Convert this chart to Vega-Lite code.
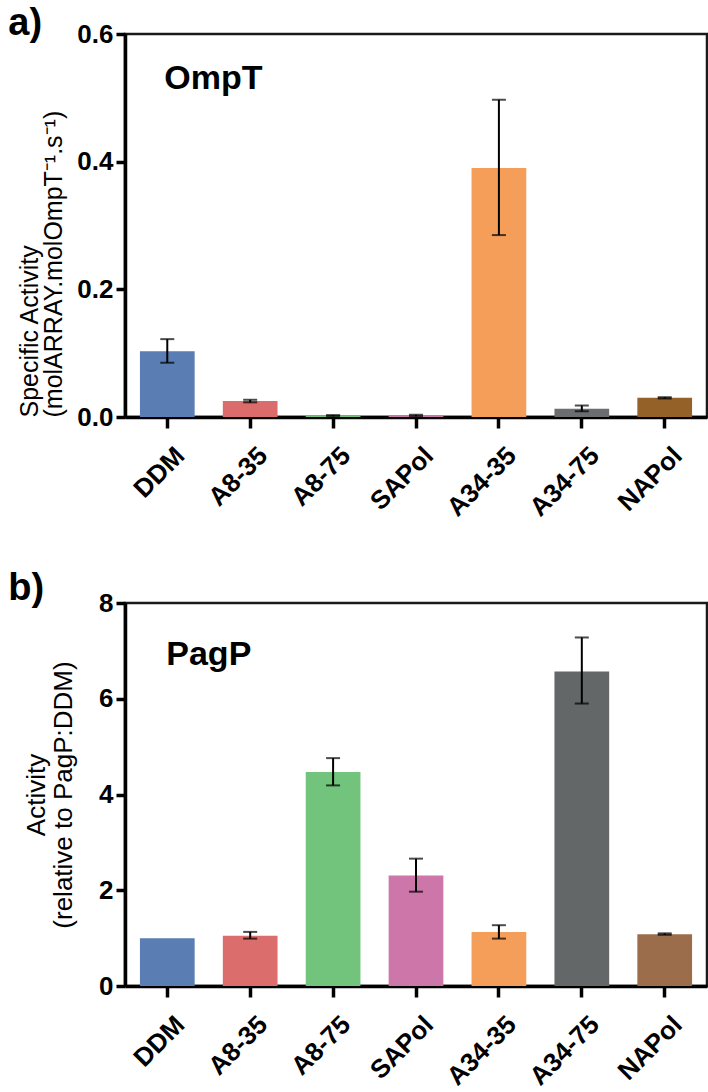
{
  "$schema": "https://vega.github.io/schema/vega-lite/v6.json",
  "background": "white",
  "padding": {"left": 7, "top": 3, "right": 0, "bottom": 3},
  "config": {
    "view": {"stroke": "#1a1a1a", "strokeWidth": 2.5},
    "font": "Liberation Sans",
    "axis": {
      "domainColor": "black", "domainWidth": 3.5, "tickColor": "black", "tickWidth": 3.5,
      "labelColor": "black", "labelFont": "Liberation Sans", "labelFontWeight": "bold", "labelFontSize": 26,
      "titleFont": "Liberation Sans", "titleFontWeight": "normal", "titleFontSize": 25, "titleColor": "black", "titleLineHeight": 24,
      "grid": false
    }
  },
  "datasets": {
    "ompt": [
      {"cat": "DDM", "value": 0.103, "lo": 0.085, "hi": 0.122},
      {"cat": "A8-35", "value": 0.025, "lo": 0.023, "hi": 0.027},
      {"cat": "A8-75", "value": 0.002, "lo": 0.001, "hi": 0.003},
      {"cat": "SAPol", "value": 0.002, "lo": 0.001, "hi": 0.0035},
      {"cat": "A34-35", "value": 0.390, "lo": 0.285, "hi": 0.497},
      {"cat": "A34-75", "value": 0.013, "lo": 0.009, "hi": 0.018},
      {"cat": "NAPol", "value": 0.030, "lo": 0.029, "hi": 0.031}
    ],
    "pagp": [
      {"cat": "DDM", "value": 1.0, "lo": null, "hi": null},
      {"cat": "A8-35", "value": 1.05, "lo": 0.99, "hi": 1.13},
      {"cat": "A8-75", "value": 4.47, "lo": 4.19, "hi": 4.76},
      {"cat": "SAPol", "value": 2.31, "lo": 1.97, "hi": 2.66},
      {"cat": "A34-35", "value": 1.13, "lo": 0.99, "hi": 1.27},
      {"cat": "A34-75", "value": 6.57, "lo": 5.90, "hi": 7.28},
      {"cat": "NAPol", "value": 1.08, "lo": 1.07, "hi": 1.10}
    ]
  },
  "spacing": 46,
  "resolve": {"scale": {"color": "independent"}},
  "vconcat": [
    {
      "width": 582, "height": 383,
      "data": {"name": "ompt"},
      "encoding": {
        "x": {"field": "cat", "type": "nominal", "sort": null, "scale": {"paddingInner": 0.34, "paddingOuter": 0.18}, "axis": {"title": null, "labelAngle": -45, "labelPadding": 14, "labelOffset": 4, "tickSize": 11}}
      },
      "layer": [
        {
          "mark": {"type": "bar"},
          "encoding": {
            "y": {"field": "value", "type": "quantitative", "scale": {"domain": [0, 0.6]}, "axis": {"values": [0, 0.2, 0.4, 0.6], "format": ".1f", "tickSize": 9, "labelPadding": 3, "title": ["Specific Activity", "(molARRAY.molOmpT⁻¹.s⁻¹)"], "titlePadding": 10, "titleAnchor": "start"}},
            "color": {"field": "cat", "type": "nominal", "sort": null, "legend": null, "scale": {"domain": ["DDM", "A8-35", "A8-75", "SAPol", "A34-35", "A34-75", "NAPol"], "range": ["#5a7db4", "#dc6b6b", "#72c47a", "#cd76aa", "#f59e5a", "#6b6e70", "#946128"]}}
          }
        },
        {"mark": {"type": "rule", "color": "black", "strokeWidth": 2}, "encoding": {"y": {"field": "lo", "type": "quantitative"}, "y2": {"field": "hi"}}},
        {"mark": {"type": "tick", "color": "black", "thickness": 2, "size": 14}, "encoding": {"y": {"field": "lo", "type": "quantitative"}}},
        {"mark": {"type": "tick", "color": "black", "thickness": 2, "size": 14}, "encoding": {"y": {"field": "hi", "type": "quantitative"}}},
        {
          "data": {"values": [{"cat": "DDM", "y": 0.514, "label": "OmpT"}]},
          "mark": {"type": "text", "align": "left", "baseline": "alphabetic", "dx": -3, "fontSize": 34, "fontWeight": "bold", "color": "black", "font": "Liberation Sans"},
          "encoding": {"y": {"field": "y", "type": "quantitative"}, "text": {"field": "label"}}
        },
        {
          "data": {"values": [{"cat": "DDM", "y": 0.6, "label": "a)"}]},
          "mark": {"type": "text", "align": "left", "baseline": "alphabetic", "dx": -159, "dy": 1, "fontSize": 38, "fontWeight": "bold", "color": "black", "font": "Liberation Sans"},
          "encoding": {"y": {"field": "y", "type": "quantitative"}, "text": {"field": "label"}}
        }
      ]
    },
    {
      "width": 582, "height": 383,
      "data": {"name": "pagp"},
      "encoding": {
        "x": {"field": "cat", "type": "nominal", "sort": null, "scale": {"paddingInner": 0.34, "paddingOuter": 0.18}, "axis": {"title": null, "labelAngle": -45, "labelPadding": 14, "labelOffset": 4, "tickSize": 11}}
      },
      "layer": [
        {
          "mark": {"type": "bar"},
          "encoding": {
            "y": {"field": "value", "type": "quantitative", "scale": {"domain": [0, 8]}, "axis": {"values": [0, 2, 4, 6, 8], "format": "d", "tickSize": 9, "labelPadding": 3, "title": ["Activity", "(relative to PagP:DDM)"], "titlePadding": 22, "titleFontSize": 26, "titleLineHeight": 27}},
            "color": {"field": "cat", "type": "nominal", "sort": null, "legend": null, "scale": {"domain": ["DDM", "A8-35", "A8-75", "SAPol", "A34-35", "A34-75", "NAPol"], "range": ["#5a7db4", "#dc6d6d", "#72c47c", "#cd76aa", "#f59e5a", "#636768", "#9b6d4a"]}}
          }
        },
        {"mark": {"type": "rule", "color": "black", "strokeWidth": 2}, "encoding": {"y": {"field": "lo", "type": "quantitative"}, "y2": {"field": "hi"}}},
        {"mark": {"type": "tick", "color": "black", "thickness": 2, "size": 14}, "encoding": {"y": {"field": "lo", "type": "quantitative"}}},
        {"mark": {"type": "tick", "color": "black", "thickness": 2, "size": 14}, "encoding": {"y": {"field": "hi", "type": "quantitative"}}},
        {
          "data": {"values": [{"cat": "DDM", "y": 6.7, "label": "PagP"}]},
          "mark": {"type": "text", "align": "left", "baseline": "alphabetic", "dx": -1, "fontSize": 34, "fontWeight": "bold", "color": "black", "font": "Liberation Sans"},
          "encoding": {"y": {"field": "y", "type": "quantitative"}, "text": {"field": "label"}}
        },
        {
          "data": {"values": [{"cat": "DDM", "y": 8, "label": "b)"}]},
          "mark": {"type": "text", "align": "left", "baseline": "alphabetic", "dx": -159, "dy": -3, "fontSize": 38, "fontWeight": "bold", "color": "black", "font": "Liberation Sans"},
          "encoding": {"y": {"field": "y", "type": "quantitative"}, "text": {"field": "label"}}
        }
      ]
    }
  ]
}
